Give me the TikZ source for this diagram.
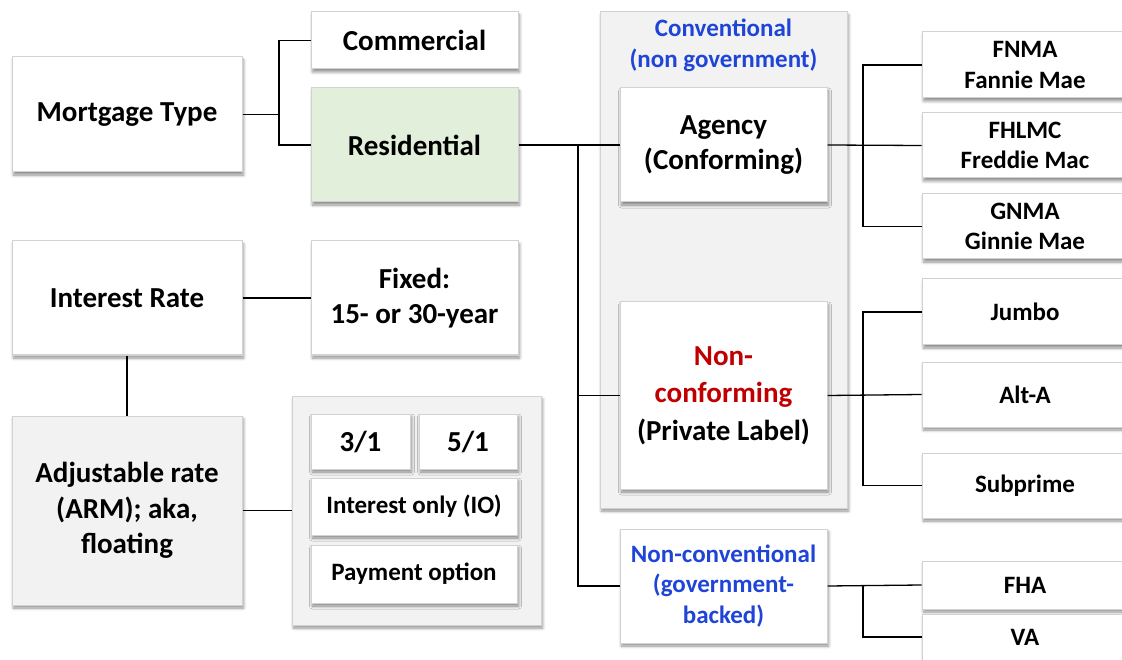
\documentclass[tikz,border=0pt]{standalone}
\usepackage{fontspec}
\setmainfont{Carlito}
\usetikzlibrary{shadows.blur}

\definecolor{edge}{HTML}{D2D2D2}
\definecolor{panel}{HTML}{F2F2F2}
\definecolor{mint}{HTML}{E2EFDA}
\definecolor{govblue}{HTML}{1F44D8}
\definecolor{alertred}{HTML}{C00000}

\newcommand\bigtxt{\fontsize{29}{35.5}\selectfont\bfseries}
\newcommand\smalltxt{\fontsize{25}{30.5}\selectfont\bfseries}

\tikzset{
  soft/.style={blur shadow={shadow xshift=1.5pt, shadow yshift=-3pt,
      shadow blur radius=3pt, shadow blur steps=6, shadow opacity=45}},
  box/.style={draw=edge, line width=1pt, fill=white, align=center,
      inner sep=0pt, font=\bigtxt, soft},
  minor/.style={box, font=\smalltxt},
  holder/.style={draw=edge, line width=1pt, fill=panel, inner sep=0pt, soft},
  link/.style={draw=black, line width=1.3pt},
}

\begin{document}
\begin{tikzpicture}[x=1pt, y=-1pt]
\useasboundingbox (0,0) rectangle (1122,660);
\clip (0,0) rectangle (1122,660);

% grey panels holding groups of boxes
\node[holder, minimum width=247, minimum height=496] (convc) at (723.5,260) {};
\node[holder, minimum width=249, minimum height=229] (optc) at (416.5,510.5) {};

% left column
\node[box, minimum width=230, minimum height=115] (mtype) at (127,114.5) {Mortgage Type};
\node[box, minimum width=230, minimum height=114] (irate) at (127,298) {Interest Rate};
\node[box, fill=panel, minimum width=230, minimum height=189] (arm) at (127,510.5)
  {Adjustable rate\\(ARM); aka,\\floating};

% second column
\node[box, minimum width=207, minimum height=57] (comm) at (414.5,40.5) {Commercial};
\node[box, fill=mint, minimum width=207, minimum height=114] (resi) at (414.5,145) {Residential};
\node[box, minimum width=207, minimum height=114] (fixed) at (414.5,298) {Fixed:\\15- or 30-year};
\node[box, minimum width=99, minimum height=55] (b31) at (360.5,441.5) {3/1};
\node[box, minimum width=98, minimum height=55] (b51) at (468,441.5) {5/1};
\node[minor, minimum width=206, minimum height=57] (io) at (414,506.5) {Interest only (IO)};
\node[minor, minimum width=206, minimum height=58] (pay) at (414,574) {Payment option};

% third column
\node[font=\smalltxt, text=govblue, align=center] (convlabel) at (723.5,45.5)
  {Conventional\\(non government)};
\node[box, minimum width=207, minimum height=114] (agency) at (723.5,145) {Agency\\(Conforming)};
\node[box, minimum width=207, minimum height=187, font=\fontsize{29}{37.5}\selectfont\bfseries]
  (nonconf) at (723.5,395.5)
  {\textcolor{alertred}{Non-}\\\textcolor{alertred}{conforming}\\(Private Label)};
\node[minor, text=govblue, minimum width=207, minimum height=114] (nonconv) at (723.5,586)
  {Non-conventional\\(government-\\backed)};

% right column
\node[minor, minimum width=206, minimum height=66] (fnma) at (1025,65) {FNMA\\Fannie Mae};
\node[minor, minimum width=206, minimum height=65] (fhlmc) at (1025,145.5) {FHLMC\\Freddie Mac};
\node[minor, minimum width=206, minimum height=65] (gnma) at (1025,226.5) {GNMA\\Ginnie Mae};
\node[minor, minimum width=206, minimum height=66] (jumbo) at (1025,312) {Jumbo};
\node[minor, minimum width=206, minimum height=65] (alta) at (1025,394.5) {Alt-A};
\node[minor, minimum width=206, minimum height=65] (subp) at (1025,485.5) {Subprime};
\node[minor, minimum width=206, minimum height=48] (fha) at (1025,585) {FHA};
\node[minor, minimum width=206, minimum height=46] (va) at (1025,637) {VA};

% junction points of the tree connectors
\coordinate (j1) at (279,114.5);
\coordinate (j2) at (578,145);
\coordinate (j3) at (863,145);
\coordinate (j4) at (863,395.5);
\coordinate (j5) at (863,586);

% connectors
\draw[link] (mtype.east) -- (j1);
\draw[link] (comm.west) -| (j1);
\draw[link] (resi.west) -| (j1);

\draw[link] (resi.east) -- (agency.west);
\draw[link] (nonconf.west) -| (j2);
\draw[link] (nonconv.west) -| (j2);

\draw[link] (agency.east) -- (fhlmc.west);
\draw[link] (fnma.west) -| (j3);
\draw[link] (gnma.west) -| (j3);

\draw[link] (nonconf.east) -- (alta.west);
\draw[link] (jumbo.west) -| (j4);
\draw[link] (subp.west) -| (j4);

\draw[link] (nonconv.east) -- (fha.west);
\draw[link] (va.west) -| (j5);

\draw[link] (irate.east) -- (fixed.west);
\draw[link] (irate.south) -- (arm.north);
\draw[link] (arm.east) -- (optc.west);
\end{tikzpicture}
\end{document}
